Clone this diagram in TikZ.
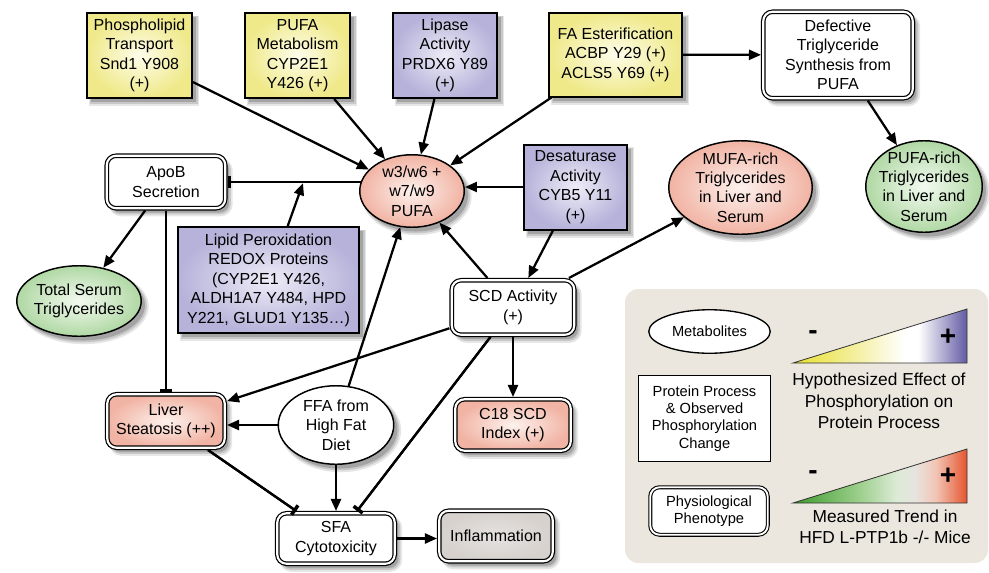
\documentclass[tikz,border=0pt]{standalone}
\usepackage{fontspec}
\setmainfont{Liberation Sans}
\usetikzlibrary{arrows.meta,shapes.geometric,shadows}
\definecolor{yelIn}{HTML}{FEFDEA}
\definecolor{yelOut}{HTML}{EFE98A}
\definecolor{purIn}{HTML}{EEECF7}
\definecolor{purOut}{HTML}{B6B2DA}
\definecolor{pinkIn}{HTML}{FDF1ED}
\definecolor{pinkOut}{HTML}{F1B3A3}
\definecolor{grnIn}{HTML}{F3FAF0}
\definecolor{grnOut}{HTML}{B0D8A4}
\definecolor{grayIn}{HTML}{E6E2DF}
\definecolor{grayOut}{HTML}{D6D1CD}
\definecolor{legbg}{HTML}{EBE7DF}
\definecolor{shadA}{HTML}{E6E6E6}
\definecolor{shadB}{HTML}{C8C8C8}
\definecolor{shadC}{HTML}{A4A4A4}
\definecolor{triYel}{HTML}{E9E12E}
\definecolor{triYelB}{HTML}{F3EE9A}
\definecolor{triPur}{HTML}{625BA3}
\definecolor{triGrn}{HTML}{3D9B2B}
\definecolor{triGrnB}{HTML}{9CCF8C}
\definecolor{triGrnC}{HTML}{DDEBD6}
\definecolor{triGry}{HTML}{E6E4E0}
\definecolor{triPk}{HTML}{F2C5B5}
\definecolor{triRed}{HTML}{E5552F}
\pgfdeclarehorizontalshading{triA}{100bp}{color(0bp)=(triYel); color(25bp)=(triYel); color(42bp)=(triYelB); color(57bp)=(white); color(61bp)=(white); color(75bp)=(triPur); color(100bp)=(triPur)}
\pgfdeclarehorizontalshading{triB}{100bp}{color(0bp)=(triGrn); color(25bp)=(triGrn); color(44bp)=(triGrnB); color(55bp)=(triGrnC); color(60bp)=(triGry); color(66bp)=(triPk); color(75bp)=(triRed); color(100bp)=(triRed)}
\tikzset{
  sz/.style 2 args={minimum width=#1*0.75pt, minimum height=#2*0.75pt},
  base/.style={align=center, font=\fontsize{12}{14.6}\selectfont, inner sep=0pt},
  shad/.style={
    general shadow={fill=shadA, draw=shadA, line width=4pt, shadow xshift=3.6pt, shadow yshift=-4pt},
    general shadow={fill=shadB, draw=shadB, line width=2pt, shadow xshift=3.2pt, shadow yshift=-3.6pt},
    general shadow={fill=shadC, shadow xshift=2.8pt, shadow yshift=-3.2pt}},
  proc/.style={base, shad, rectangle, draw, line width=1.5pt},
  yel/.style={proc, inner color=yelIn, outer color=yelOut},
  pur/.style={proc, inner color=purIn, outer color=purOut},
  pheno/.style={base, shad, rectangle, rounded corners=7pt, draw, line width=0.9pt, double=white, double distance=1.6pt, outer sep=1.7pt},
  metab/.style={base, shad, ellipse, draw, line width=1.1pt, inner xsep=-4pt, inner ysep=-6pt},
  pinkfill/.style={inner color=pinkIn, outer color=pinkOut},
  grnfill/.style={inner color=grnIn, outer color=grnOut},
  arr/.style={-{Triangle[length=9pt,width=7.5pt]}, line width=1.7pt},
  blockedge/.style={line width=1.7pt, postaction={draw, line width=1.7pt, -{Rectangle[length=2.6pt,width=8.5pt]}}},
  legsmall/.style={align=center, font=\fontsize{11}{13}\selectfont, inner sep=0pt},
  legtext/.style={align=center, font=\fontsize{13}{16.1}\selectfont, inner sep=0pt},
  sign/.style={font=\fontsize{21}{21}\selectfont\bfseries, inner sep=0pt}
}
\begin{document}
\begin{tikzpicture}[x=0.75pt,y=-0.75pt]
\useasboundingbox (0,0) rectangle (989,572);

% legend background
\fill[legbg, rounded corners=10pt] (625,289) rectangle (988,563);

% top row
\node[yel, sz={105}{85}] (phos) at (139.5,55.5) {Phospholipid\\Transport\\Snd1 Y908\\(+)};
\node[yel, sz={105}{85}] (pufamet) at (297.5,55.5) {PUFA\\Metabolism\\CYP2E1\\Y426 (+)};
\node[pur, sz={104}{85}] (lipase) at (445,55.5) {Lipase\\Activity\\PRDX6 Y89\\(+)};
\node[yel, sz={133}{84}] (faest) at (615.5,54.5) {FA Esterification\\ACBP Y29 (+)\\ACLS5 Y69 (+)};
\node[pheno, fill=white, sz={149.5}{86.5}] (defect) at (838,55) {Defective\\Triglyceride\\Synthesis from\\PUFA};

% middle
\node[metab, pinkfill, sz={104.5}{72.5}] (w3) at (412,191) {w3/w6 +\\w7/w9\\PUFA};
\node[pheno, fill=white, sz={118.5}{52.5}] (apob) at (166,182) {ApoB\\Secretion};
\node[pur, sz={103}{85}] (desat) at (575.5,187) {Desaturase\\Activity\\CYB5 Y11\\(+)};
\node[metab, pinkfill, sz={143.5}{93.5}] (mufa) at (740.5,187.5) {MUFA-rich\\Triglycerides\\in Liver and\\Serum};
\node[metab, grnfill, sz={116.5}{91.5}] (pufarich) at (924,186.5) {PUFA-rich\\Triglycerides\\in Liver and\\Serum};
\node[metab, grnfill, sz={124.5}{70.5}] (total) at (79,301) {Total Serum\\Triglycerides};
\node[pur, sz={181}{106}] (lipid) at (268.5,280) {Lipid Peroxidation\\REDOX Proteins\\(CYP2E1 Y426,\\ALDH1A7 Y484, HPD\\Y221, GLUD1 Y135…)};
\node[pheno, fill=white, sz={122.5}{54.5}] (scd) at (513,307.5) {SCD Activity\\(+)};

% bottom
\node[pheno, pinkfill, sz={117.5}{53.5}] (liver) at (166,421) {Liver\\Steatosis (++)};
\node[metab, fill=white, sz={115.5}{78.5}] (ffa) at (336,425) {FFA from\\High Fat\\Diet};
\node[pheno, pinkfill, sz={115.5}{51.5}] (c18) at (513,425) {C18 SCD\\Index (+)};
\node[pheno, fill=white, sz={117.5}{50.5}] (sfa) at (336,538.5) {SFA\\Cytotoxicity};
\node[pheno, inner color=grayIn, outer color=grayOut, sz={113.5}{50.5}] (infl) at (496,536) {Inflammation};

% edges
\draw[arr] (phos) -- (w3);
\draw[arr] (pufamet) -- (w3);
\draw[arr] (lipase) -- (w3);
\draw[arr] (faest) -- (w3);
\draw[arr] (faest) -- (defect);
\draw[arr] (defect) -- (pufarich);
\draw[arr] (desat.west) -- (desat.west -| w3.east);
\draw[blockedge] ([xshift=1.2pt]w3.west |- apob.east) -- coordinate[pos=0.43] (m1) (apob.east);
\draw[arr, shorten >=0.9pt] (lipid) -- (m1);
\draw[arr] (apob) -- (total);
\draw[blockedge] (apob) -- (liver);
\draw[arr] (scd) -- (w3);
\draw[arr] (desat) -- (scd);
\draw[arr] (scd) -- (mufa);
\draw[arr] (scd) -- (liver);
\draw[arr] (scd) -- (c18);
\draw[blockedge] (scd) -- (sfa);
\draw[arr] (ffa) -- (w3);
\draw[arr] (ffa.west) -- (ffa.west -| liver.east);
\draw[arr] (ffa) -- (sfa);
\draw[blockedge] (liver) -- (sfa);
\draw[arr] (sfa.east) -- (sfa.east -| infl.west);

% legend
\node[legsmall, ellipse, draw, fill=white, line width=1pt, inner xsep=-4pt, inner ysep=-4pt, sz={121.5}{43.5}] (lmetab) at (709.5,331.5) {Metabolites};
\node[legsmall, rectangle, draw, fill=white, line width=1pt, sz={131.7}{85.7}] (lprot) at (704.5,418.5) {Protein Process\\\& Observed\\Phosphorylation\\Change};
\node[legsmall, rectangle, rounded corners=7pt, draw, fill=white, line width=0.8pt, double=white, double distance=1.4pt, sz={117.5}{47.5}] (lphys) at (709,511) {Physiological\\Phenotype};
\path[shading=triA, draw=black!80, line width=0.6pt] (793,363) -- (967,363) -- (967,309) -- cycle;
\path[shading=triB, draw=black!80, line width=0.6pt] (793,503) -- (967,503) -- (967,449) -- cycle;
\node[sign] (minA) at (813,335) {-};
\node[sign] (plusA) at (948,337) {+};
\node[sign] (minB) at (813,475) {-};
\node[sign] (plusB) at (948,476) {+};
\node[legtext] (hyp) at (879,401) {Hypothesized Effect of\\Phosphorylation on\\Protein Process};
\node[legtext] (meas) at (885,527) {Measured Trend in\\HFD L-PTP1b -/- Mice};
\end{tikzpicture}
\end{document}
